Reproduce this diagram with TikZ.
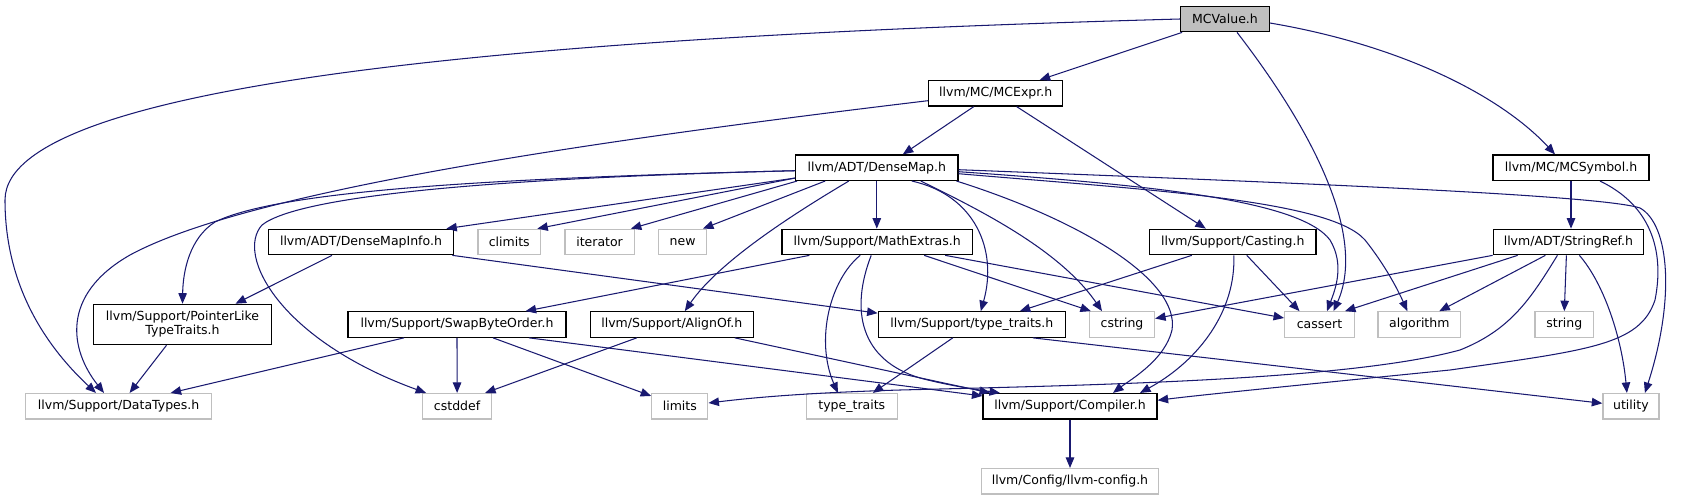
\documentclass[tikz,border=0pt]{standalone}
\usepackage{fontspec}
\setmainfont{DejaVu Sans}
\usetikzlibrary{arrows.meta}
\definecolor{edgeblue}{HTML}{191970}
\definecolor{extgray}{HTML}{BFBFBF}
\tikzset{
  box/.style={draw=black, line width=1.2pt, minimum height=25.5pt, inner sep=0pt,
    font=\fontsize{12.5pt}{14pt}\selectfont, text=black, align=center},
  ext/.style={box, draw=extgray},
  edge/.style={draw=edgeblue, line width=1.05pt, -{Triangle[length=10.5pt,width=8.5pt]}, fill=none}
}
\begin{document}
\begin{tikzpicture}[x=1pt,y=-1pt]
\useasboundingbox (0,0) rectangle (1681,500);
% nodes
\node[box, fill=extgray, minimum width=88.6pt] (mcv) at (1225,19) {MCValue.h};
\node[box, minimum width=134.3pt] (mce) at (995.7,93.3) {llvm/MC/MCExpr.h};
\node[box, minimum width=162.2pt] (dm) at (876.8,167.7) {llvm/ADT/DenseMap.h};
\node[box, minimum width=156pt] (mcs) at (1571,167.7) {llvm/MC/MCSymbol.h};
\node[box, minimum width=185.4pt] (dmi) at (361,242) {llvm/ADT/DenseMapInfo.h};
\node[ext, minimum width=62.8pt] (clim) at (509.3,242) {climits};
\node[ext, minimum width=69.3pt] (iter) at (599.6,242) {iterator};
\node[ext, minimum width=47.5pt] (new) at (682.6,242) {new};
\node[box, minimum width=190.4pt] (mex) at (877.2,242) {llvm/Support/MathExtras.h};
\node[box, minimum width=166.4pt] (cast) at (1232.8,242) {llvm/Support/Casting.h};
\node[box, minimum width=150.3pt] (sref) at (1568.4,242) {llvm/ADT/StringRef.h};
\node[box, minimum width=177.8pt, minimum height=40.4pt] (plt) at (182.5,324.5) {llvm/Support/PointerLike\\TypeTraits.h};
\node[box, minimum width=218pt] (sbo) at (457,324.5) {llvm/Support/SwapByteOrder.h};
\node[box, minimum width=162.8pt] (align) at (671.8,324.5) {llvm/Support/AlignOf.h};
\node[box, minimum width=187.2pt] (tth) at (971.8,324.5) {llvm/Support/type\_traits.h};
\node[ext, minimum width=65pt] (cstr) at (1122,324.5) {cstring};
\node[ext, minimum width=69.7pt] (cas) at (1319.5,324.5) {cassert};
\node[ext, minimum width=82.8pt] (alg) at (1419.3,324.5) {algorithm};
\node[ext, minimum width=58.6pt] (str) at (1564.3,324.5) {string};
\node[ext, minimum width=185.7pt] (dt) at (118.6,406.3) {llvm/Support/DataTypes.h};
\node[ext, minimum width=69.3pt] (cdef) at (457.1,406.3) {cstddef};
\node[ext, minimum width=56.1pt] (lim) at (679.8,406.3) {limits};
\node[ext, minimum width=90.7pt] (tt) at (851.8,406.3) {type\_traits};
\node[box, minimum width=174pt] (comp) at (1070,406.3) {llvm/Support/Compiler.h};
\node[ext, minimum width=56pt] (util) at (1630.9,406.3) {utility};
\node[ext, minimum width=177pt] (cfg) at (1070,481.3) {llvm/Config/llvm-config.h};
% edges from MCValue.h
\path[edge] (mcv.west) .. controls (600,35) and (5,75) .. (5,200) .. controls (5,290) and (50,350) .. ([xshift=-22.6pt]dt.north);
\path[edge] ([xshift=2pt]mcv.south west) -- ([xshift=44pt]mce.north);
\path[edge] ([xshift=12pt]mcv.south) .. controls (1320,140) and (1365,240) .. ([xshift=14pt]cas.north);
\path[edge] ([yshift=-4pt]mcv.east) .. controls (1400,45) and (1500,95) .. ([xshift=-16pt]mcs.north);
% edges from MCExpr.h
\path[edge] ([xshift=-22pt]mce.south) -- ([xshift=26pt]dm.north);
\path[edge] ([xshift=21pt]mce.south) -- ([xshift=-27pt]cast.north);
\path[edge] ([yshift=-7.4pt]mce.west) .. controls (600,140) and (250,190) .. (130,255) .. controls (60,295) and (70,350) .. ([xshift=-14.6pt]dt.north);
% edges from DenseMap.h
\path[edge] ([yshift=3pt]dm.south west) -- ([xshift=-8pt]dmi.north east);
\path[edge] ([yshift=3pt]dm.south west) -- ([xshift=-4pt]clim.north east);
\path[edge] ([xshift=2pt]dm.south west) -- ([xshift=-4pt]iter.north east);
\path[edge] ([xshift=30pt]dm.south west) -- ([xshift=-4pt]new.north east);
\path[edge] (dm.south) -- (dm.south |- mex.north);
\path[edge] ([yshift=-3pt]dm.west) .. controls (500,178) and (280,190) .. (215,222) .. controls (190,238) and (183,270) .. (plt.north);
\path[edge] ([yshift=-3pt]dm.west) .. controls (500,178) and (300,195) .. (262,225) .. controls (235,255) and (280,340) .. ([xshift=-31pt]cdef.north);
\path[edge] ([xshift=-28pt]dm.south) .. controls (800,210) and (720,260) .. ([xshift=13pt]align.north);
\path[edge] ([xshift=35pt]dm.south) .. controls (975,195) and (998,250) .. ([xshift=9pt]tth.north);
\path[edge] ([xshift=44pt]dm.south) .. controls (980,210) and (1060,250) .. ([xshift=-20pt]cstr.north);
\path[edge] ([xshift=-2pt]dm.south east) .. controls (1080,220) and (1180,280) .. (1172,330) .. controls (1165,360) and (1130,380) .. ([xshift=43pt]comp.north);
\path[edge] ([yshift=-4pt]dm.east) .. controls (1150,185) and (1300,200) .. (1330,240) .. controls (1345,265) and (1335,290) .. ([xshift=7.5pt]cas.north);
\path[edge] ([yshift=-6pt]dm.east) .. controls (1150,190) and (1330,200) .. (1365,240) .. controls (1385,265) and (1398,290) .. ([xshift=-12pt]alg.north);
\path[edge] ([yshift=-2pt]dm.east) .. controls (1300,183) and (1600,195) .. (1640,208) .. controls (1670,225) and (1675,300) .. ([xshift=14pt]util.north);
% edges from MCSymbol.h
\path[edge] (mcs.south) -- (mcs.south |- sref.north);
\path[edge] ([xshift=29pt]mcs.south) .. controls (1650,205) and (1665,250) .. (1655,300) .. controls (1640,345) and (1590,350) .. (1450,370) .. controls (1300,385) and (1200,395) .. ([yshift=6pt]comp.east);
% DenseMapInfo.h
\path[edge] ([xshift=-29pt]dmi.south) -- ([xshift=53pt]plt.north);
\path[edge] ([xshift=-2pt]dmi.south east) -- ([yshift=-2pt]tth.north west);
% MathExtras.h
\path[edge] ([xshift=28pt]mex.south west) -- ([xshift=-41pt]sbo.north east);
\path[edge] ([xshift=-17pt]mex.south) .. controls (830,280) and (815,340) .. ([xshift=-14pt]tt.north);
\path[edge] ([xshift=-6pt]mex.south) .. controls (850,310) and (860,360) .. (920,378) .. controls (950,386) and (980,390) .. ([xshift=-70pt]comp.north);
\path[edge] ([xshift=68pt]mex.south) -- ([yshift=6.5pt]cas.west);
\path[edge] ([xshift=47pt]mex.south) -- ([xshift=2pt]cstr.north west);
% Casting.h
\path[edge] ([xshift=-41pt]cast.south) -- ([xshift=48pt]tth.north);
\path[edge] ([xshift=14pt]cast.south) -- ([xshift=-20pt]cas.north);
\path[edge] ([xshift=1pt]cast.south) .. controls (1236,310) and (1200,360) .. ([xshift=70pt]comp.north);
% StringRef.h
\path[edge] (sref.south west) -- ([yshift=6pt]cstr.east);
\path[edge] ([xshift=25pt]sref.south west) -- ([xshift=-10pt]cas.north east);
\path[edge] ([xshift=-23pt]sref.south) -- ([xshift=20pt]alg.north);
\path[edge] ([xshift=-2pt]sref.south) -- (str.north);
\path[edge] ([xshift=11pt]sref.south) .. controls (1605,285) and (1622,340) .. ([xshift=-4pt]util.north);
\path[edge] ([xshift=-11pt]sref.south) .. controls (1530,300) and (1510,330) .. (1460,350) .. controls (1350,380) and (1100,385) .. (900,390) .. controls (800,393) and (750,398) .. ([yshift=3.3pt]lim.east);
% PointerLikeTypeTraits.h
\path[edge] ([xshift=-16pt]plt.south) -- ([xshift=11pt]dt.north);
% SwapByteOrder.h
\path[edge] ([xshift=-53pt]sbo.south) -- ([xshift=52pt]dt.north);
\path[edge] (sbo.south) -- (cdef.north);
\path[edge] ([xshift=36pt]sbo.south) -- ([yshift=-3pt]lim.north west);
\path[edge] ([xshift=72pt]sbo.south) -- ([yshift=-3pt]comp.north west);
% AlignOf.h
\path[edge] ([xshift=-35pt]align.south) -- ([xshift=28pt]cdef.north);
\path[edge] ([xshift=63pt]align.south) -- ([xshift=-80pt]comp.north);
% type_traits.h
\path[edge] ([xshift=-19pt]tth.south) -- ([xshift=21pt]tt.north);
\path[edge] ([xshift=61pt]tth.south) -- ([yshift=3pt]util.west);
% Compiler.h
\path[edge] (comp.south) -- (cfg.north);
\end{tikzpicture}
\end{document}
